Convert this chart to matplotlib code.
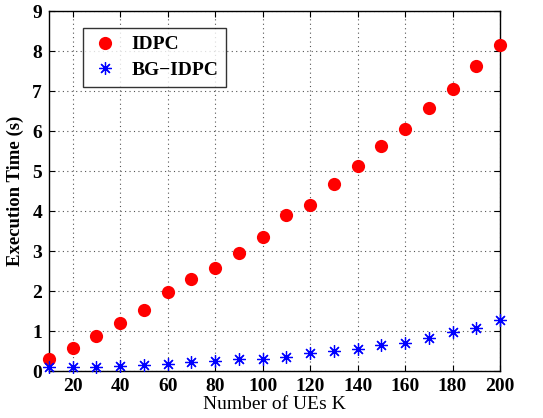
import matplotlib
matplotlib.use('Agg')
import matplotlib.pyplot as plt

plt.rcParams['font.family'] = ['Liberation Serif', 'DejaVu Serif']

# Number of UEs K
ues = [10, 20, 30, 40, 50, 60, 70, 80, 90, 100,
       110, 120, 130, 140, 150, 160, 170, 180, 190, 200]

# Execution time (s)
idpc = [0.29, 0.57, 0.87, 1.21, 1.52, 1.97, 2.31, 2.58, 2.96, 3.35,
        3.90, 4.16, 4.68, 5.12, 5.63, 6.04, 6.58, 7.06, 7.63, 8.14]
bg_idpc = [0.10, 0.10, 0.10, 0.12, 0.16, 0.17, 0.22, 0.24, 0.29, 0.31,
           0.34, 0.44, 0.49, 0.56, 0.64, 0.69, 0.82, 0.97, 1.07, 1.27]

xticks = [20, 40, 60, 80, 100, 120, 140, 160, 180, 200]
yticks = [0, 1, 2, 3, 4, 5, 6, 7, 8, 9]

fig = plt.figure(figsize=(5.43, 4.18), dpi=100)
ax = fig.add_axes([49 / 543, 1 - 371 / 418, 451 / 543, 360 / 418])

ax.plot(ues, idpc, linestyle='none', marker='o', color='red',
        markersize=9.5, markeredgewidth=0, label='IDPC', clip_on=False, zorder=3)
ax.plot(ues, bg_idpc, linestyle='none', marker=(8, 2, 0), color='blue',
        markersize=9, markeredgewidth=0.9, label='BG\u2212IDPC', clip_on=False, zorder=4)

ax.set_xlim(10, 200)
ax.set_ylim(0, 9)
ax.set_xticks(xticks)
ax.set_yticks(yticks)
ax.tick_params(direction='in', top=True, right=True, length=4, width=0.8,
               labelsize=14, pad=5)
for lbl in ax.get_xticklabels() + ax.get_yticklabels():
    lbl.set_fontweight('bold')

ax.grid(True, linestyle=(0, (1, 3)), color='#555555', linewidth=0.8)
for s in ax.spines.values():
    s.set_linewidth(1.0)

ax.set_xlabel('Number of UEs K', fontsize=14, labelpad=1)
ax.set_ylabel('Execution Time (s)', fontsize=13.5, fontweight='bold', labelpad=6)

leg = ax.legend(loc='upper left', bbox_to_anchor=(34 / 451, (371 - 28) / 360),
                prop={'weight': 'bold', 'size': 14}, frameon=True, fancybox=False,
                edgecolor='black', handletextpad=0.6, borderpad=0.4,
                labelspacing=0.42, handlelength=1.5, borderaxespad=0)
leg.get_frame().set_linewidth(1.0)

fig.savefig('out.png', dpi=100)
